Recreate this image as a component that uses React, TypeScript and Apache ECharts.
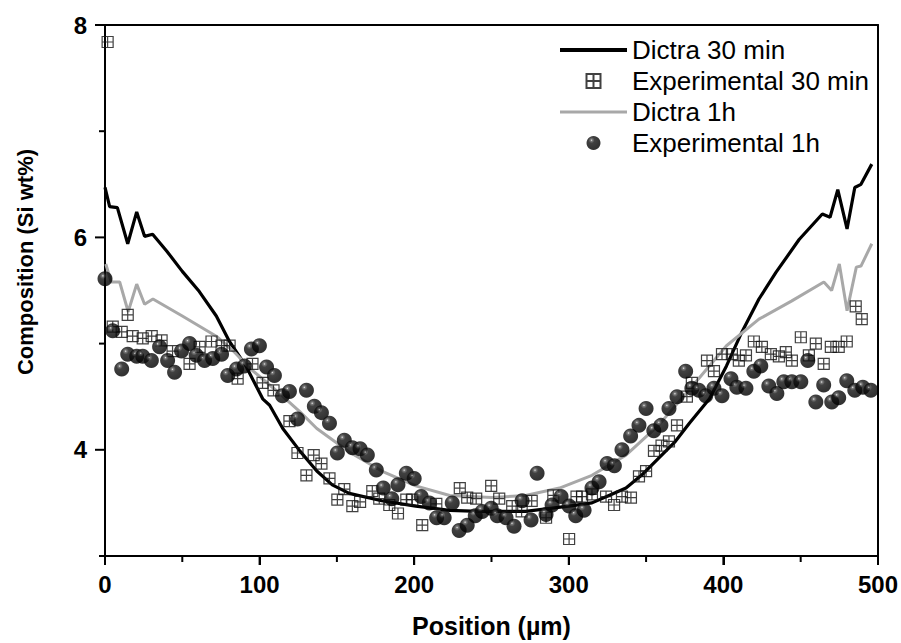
import React, { useEffect, useRef } from "react";
import * as echarts from "echarts";

const dictra30: [number, number][] = [
  [0, 6.47], [3, 6.29], [8, 6.28], [14.7, 5.94], [20.5, 6.24], [25.6, 6.01], [30.8, 6.03],
  [40, 5.87], [50, 5.68], [61, 5.49], [72, 5.26], [80.5, 5.02], [91.5, 4.78], [102, 4.48],
  [106.5, 4.42], [115, 4.2], [126, 3.99], [137, 3.8], [147, 3.67], [158, 3.59], [179, 3.52],
  [201, 3.47], [223, 3.43], [242, 3.42], [272, 3.42], [300, 3.47], [315, 3.5], [326, 3.57],
  [337, 3.64], [347, 3.76], [358, 3.92], [369, 4.08], [378, 4.25], [391, 4.48], [402, 4.79],
  [412, 5.11], [423, 5.42], [434, 5.67], [449, 5.98], [464, 6.22], [469, 6.19], [474, 6.45],
  [480, 6.08], [485, 6.47], [489, 6.5], [496, 6.69],
];

const dictra1h: [number, number][] = [
  [0.5, 5.75], [4, 5.58], [9.5, 5.58], [15, 5.3], [20.5, 5.56], [25.6, 5.37], [31, 5.42],
  [50, 5.26], [72, 5.07], [83, 4.93], [93.5, 4.77], [113, 4.53], [126, 4.36], [137, 4.2],
  [158, 3.98], [179, 3.8], [201, 3.66], [223, 3.57], [250, 3.55], [272, 3.57], [294, 3.64],
  [315, 3.76], [337, 3.95], [358, 4.23], [380, 4.6], [402, 4.98], [423, 5.23], [444, 5.4],
  [465, 5.58], [470, 5.5], [475, 5.75], [480, 5.31], [486, 5.72], [489, 5.73], [496, 5.94],
];

const exp30: [number, number][] = [
  [1.7, 7.84], [5, 5.16], [10.8, 5.11], [14.7, 5.27], [17.9, 5.07], [24.4, 5.05], [30.2, 5.07],
  [36.6, 5.03], [43.7, 4.93], [54.7, 4.81], [61.2, 4.97], [68.9, 5.02], [75.4, 4.98], [80.6, 4.98],
  [85.8, 4.67], [95.4, 4.81], [101.9, 4.63], [109, 4.56], [119.3, 4.27], [124.5, 3.97], [130.3, 3.76],
  [135, 3.95], [140, 3.87], [145.2, 3.73], [150.3, 3.53], [154.8, 3.63], [160, 3.47], [165, 3.51],
  [172.9, 3.61], [177.4, 3.54], [183.9, 3.48], [189.5, 3.4], [194.9, 3.53], [198.8, 3.53], [205.2, 3.29],
  [214.3, 3.49], [229.5, 3.64], [234.3, 3.55], [240.1, 3.54], [249.8, 3.66], [255, 3.54], [263.4, 3.47],
  [269.5, 3.42], [276, 3.52], [285.3, 3.36], [290, 3.57], [300.2, 3.16], [305, 3.56], [308.6, 3.56],
  [315, 3.58], [324.1, 3.56], [329.3, 3.48], [334.4, 3.56], [340.2, 3.55], [345.4, 3.75], [350, 3.8],
  [355.1, 3.99], [360, 4.04], [364.8, 4.08], [370, 4.23], [376.4, 4.5], [379.6, 4.63], [389.4, 4.84],
  [393.9, 4.74], [399.1, 4.9], [405.5, 4.9], [410, 4.84], [414.6, 4.89], [419.7, 5.02], [424.9, 4.97],
  [430.7, 4.9], [435.9, 4.88], [440.4, 4.92], [444.3, 4.84], [450.1, 5.06], [455.3, 4.89], [459.8, 5.0],
  [464.9, 4.81], [469.5, 4.97], [474.6, 4.97], [479.8, 5.02], [485.6, 5.35], [489.5, 5.23],
];

const exp1h: [number, number][] = [
  [0, 5.61], [5, 5.12], [10.8, 4.76], [14.7, 4.9], [20.5, 4.88], [24.4, 4.88], [30, 4.84],
  [35.3, 4.97], [40.5, 4.84], [45, 4.73], [49.5, 4.93], [54.7, 5.0], [59, 4.89], [64.4, 4.84],
  [69.7, 4.86], [75.4, 4.9], [79.4, 4.7], [85.1, 4.76], [90.2, 4.79], [94.7, 4.95], [99.9, 4.98],
  [104.5, 4.78], [109.6, 4.7], [114.8, 4.51], [119.3, 4.55], [124.5, 4.29], [130.3, 4.56], [135.4, 4.41],
  [140, 4.35], [145.2, 4.25], [150.3, 3.97], [154.8, 4.09], [160, 4.02], [165, 4.01], [169.7, 3.95],
  [175.5, 3.81], [180, 3.64], [185.5, 3.54], [189.5, 3.67], [194.9, 3.78], [200, 3.73], [204.5, 3.56],
  [209.8, 3.5], [214.5, 3.36], [219.4, 3.36], [224.6, 3.5], [229.1, 3.24], [234.3, 3.29], [239.5, 3.38],
  [244, 3.42], [249.8, 3.45], [253.7, 3.38], [259.4, 3.36], [264.6, 3.28], [269.8, 3.52], [275.6, 3.34],
  [279.5, 3.78], [285.3, 3.39], [289.2, 3.48], [295, 3.56], [300.2, 3.47], [304.5, 3.38], [309.9, 3.43],
  [315, 3.64], [319.6, 3.7], [324.8, 3.87], [329.5, 3.85], [334.4, 4.0], [340, 4.13], [345.4, 4.23],
  [350, 4.39], [355, 4.18], [359.6, 4.23], [364.8, 4.39], [370, 4.5], [375.6, 4.74], [379.6, 4.58],
  [384.1, 4.56], [388.6, 4.51], [393.9, 4.58], [399.1, 4.51], [404.9, 4.67], [408.7, 4.59], [414.6, 4.58],
  [419.7, 4.74], [424.2, 4.79], [429.4, 4.6], [434.6, 4.53], [439.1, 4.64], [444.3, 4.64], [450.1, 4.64],
  [454.6, 4.84], [459.8, 4.45], [464.9, 4.61], [470.1, 4.45], [474.6, 4.49], [479.8, 4.65], [485, 4.56],
  [490.2, 4.59], [495.4, 4.56],
];

const seriesNames = ["Dictra 30 min", "Experimental 30 min", "Dictra 1h", "Experimental 1h"];
const yLabelValues = [4, 6, 8];
const yTickValues = [3, 4, 5, 6, 7, 8];
const xTickValues = [0, 50, 100, 150, 200, 250, 300, 350, 400, 450, 500];
const xAxisName = "Position (µm)";
const yAxisName = "Composition (Si wt%)";

const X_MIN = 0;
const X_MAX = 500;
const Y_MIN = 3;
const Y_MAX = 8;

const FONT = "'Liberation Sans', Arial, Helvetica, sans-serif";
const SQUARE = "path://M0,0L10,0L10,10L0,10Z M5,0L5,10 M0,5L10,5";

export default function App() {
  const ref = useRef<HTMLDivElement>(null);

  useEffect(() => {
    if (!ref.current) return;
    const chart = echarts.init(ref.current, undefined, { renderer: "svg" });

    const sphere = new echarts.graphic.RadialGradient(0.36, 0.3, 0.62, [
      { offset: 0, color: "#e6e6e6" },
      { offset: 0.12, color: "#5a5a5a" },
      { offset: 0.35, color: "#111" },
      { offset: 1, color: "#000" },
    ]);

    const mkLine = () => ({ show: true, onZero: false, lineStyle: { color: "#000", width: 2 } });
    const labelStyle = { color: "#000", fontFamily: FONT, fontWeight: "bold", fontSize: 24 };

    const yNameText = {
      type: "text",
      id: "yname",
      x: 25,
      y: 262,
      rotation: Math.PI / 2,
      style: {
        text: yAxisName,
        fill: "#000",
        font: `bold 22px ${FONT}`,
        align: "center",
        verticalAlign: "middle",
      },
    };

    const option: any = {
      animation: false,
      backgroundColor: "#fff",
      grid: { left: 105, right: 22, top: 25, bottom: 86 },
      legend: {
        orient: "vertical",
        left: 560,
        top: 37,
        padding: 0,
        itemWidth: 67,
        itemHeight: 14,
        itemGap: 5,
        data: [
          { name: seriesNames[0], icon: "path://M0,0M0,5L67,5L67,9L0,9ZM67,14" },
          { name: seriesNames[1], icon: SQUARE },
          { name: seriesNames[2], icon: "path://M0,0M0,5.5L67,5.5L67,8.5L0,8.5ZM67,14" },
          { name: seriesNames[3], icon: "circle" },
        ],
        textStyle: { color: "#000", fontFamily: FONT, fontSize: 26 },
      },
      xAxis: [
        {
          type: "value",
          min: X_MIN,
          max: X_MAX,
          interval: 100,
          position: "bottom",
          axisLine: mkLine(),
          axisTick: { show: true, length: 9, lineStyle: { color: "#000", width: 2 } },
          splitLine: { show: false },
          axisLabel: { ...labelStyle, margin: 16 },
          name: xAxisName,
          nameLocation: "middle",
          nameGap: 57,
          nameTextStyle: { ...labelStyle, fontSize: 25 },
        },
        {
          type: "value",
          min: X_MIN,
          max: X_MAX,
          position: "top",
          axisLine: mkLine(),
          axisTick: { show: false },
          axisLabel: { show: false },
          splitLine: { show: false },
        },
      ],
      yAxis: [
        {
          type: "value",
          min: Y_MIN,
          max: Y_MAX,
          interval: 1,
          position: "left",
          axisLine: mkLine(),
          axisTick: { show: false },
          axisLabel: { ...labelStyle, margin: 18, customValues: yLabelValues },
          splitLine: { show: false },
        },
        {
          type: "value",
          min: Y_MIN,
          max: Y_MAX,
          position: "right",
          axisLine: mkLine(),
          axisTick: { show: false },
          axisLabel: { show: false },
          splitLine: { show: false },
        },
      ],
      graphic: [yNameText],
      series: [
        {
          name: seriesNames[0],
          type: "line",
          data: dictra30,
          symbol: "none",
          lineStyle: { color: "#000", width: 3.2 },
          itemStyle: { color: "#000" },
          z: 2,
        },
        {
          name: seriesNames[1],
          type: "scatter",
          data: exp30,
          symbol: SQUARE,
          symbolSize: 11,
          itemStyle: { color: "rgba(255,255,255,0)", borderColor: "#111", borderWidth: 1.2 },
          z: 3,
        },
        {
          name: seriesNames[2],
          type: "line",
          data: dictra1h,
          symbol: "none",
          lineStyle: { color: "#a8a8a8", width: 3 },
          itemStyle: { color: "#a8a8a8" },
          z: 2,
        },
        {
          name: seriesNames[3],
          type: "scatter",
          data: exp1h,
          symbol: "circle",
          symbolSize: 15,
          itemStyle: { color: sphere },
          z: 4,
        },
      ],
    };

    chart.setOption(option);

    // Tick marks placed through the chart's own scales
    const ticks: any[] = [];
    xTickValues.forEach((v) => {
      const p = chart.convertToPixel({ gridIndex: 0 } as any, [v, Y_MIN]) as number[];
      if (!p) return;
      const len = v % 100 === 0 ? 9 : 6;
      ticks.push({
        type: "line",
        z: 100,
        silent: true,
        shape: { x1: p[0], y1: p[1], x2: p[0], y2: p[1] + len },
        style: { stroke: "#000", lineWidth: 2 },
      });
    });
    yTickValues.forEach((v) => {
      const p = chart.convertToPixel({ gridIndex: 0 } as any, [X_MIN, v]) as number[];
      if (!p) return;
      const len = v % 2 === 0 ? 10 : 6;
      ticks.push({
        type: "line",
        z: 100,
        silent: true,
        shape: { x1: p[0], y1: p[1], x2: p[0] - len, y2: p[1] },
        style: { stroke: "#000", lineWidth: 2 },
      });
    });
    chart.setOption({ graphic: [yNameText, ...ticks] });

    return () => chart.dispose();
  }, []);

  return (
    <div
      ref={ref}
      style={{ position: "fixed", left: 0, top: 0, width: "901px", height: "643px", background: "#fff" }}
    />
  );
}
